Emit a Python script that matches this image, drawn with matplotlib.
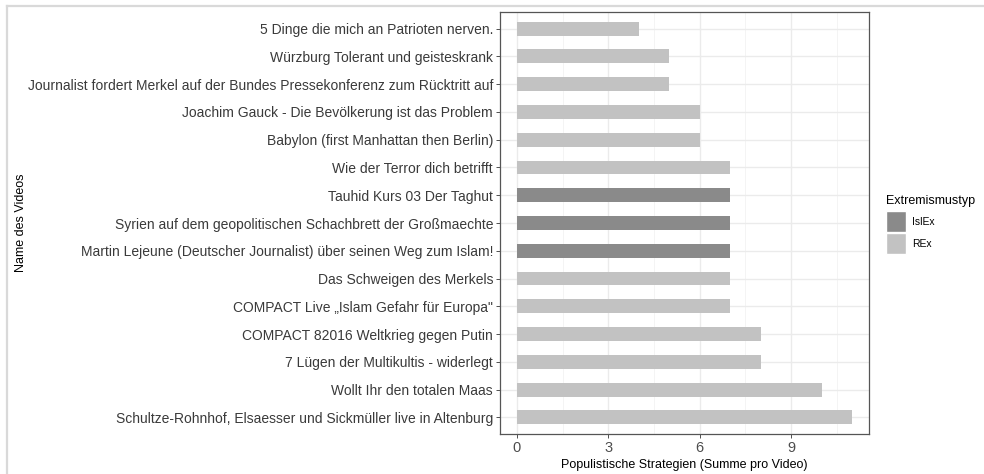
import matplotlib.pyplot as plt
from matplotlib.lines import Line2D
from matplotlib.patches import Patch

plt.rcParams['font.family'] = ['Liberation Sans', 'DejaVu Sans']

# data, top to bottom as shown
videos = [
    "5 Dinge die mich an Patrioten nerven.",
    "Würzburg Tolerant und geisteskrank",
    "Journalist fordert Merkel auf der Bundes Pressekonferenz zum Rücktritt auf",
    "Joachim Gauck - Die Bevölkerung ist das Problem",
    "Babylon (first Manhattan then Berlin)",
    "Wie der Terror dich betrifft",
    "Tauhid Kurs 03 Der Taghut",
    "Syrien auf dem geopolitischen Schachbrett der Großmaechte",
    "Martin Lejeune (Deutscher Journalist) über seinen Weg zum Islam!",
    "Das Schweigen des Merkels",
    "COMPACT Live „Islam Gefahr für Europa\"",
    "COMPACT 82016 Weltkrieg gegen Putin",
    "7 Lügen der Multikultis - widerlegt",
    "Wollt Ihr den totalen Maas",
    "Schultze-Rohnhof, Elsaesser und Sickmüller live in Altenburg",
]
werte = [4, 5, 5, 6, 6, 7, 7, 7, 7, 7, 7, 8, 8, 10, 11]
typ = ["REx", "REx", "REx", "REx", "REx", "REx", "IslEx", "IslEx", "IslEx",
       "REx", "REx", "REx", "REx", "REx", "REx"]
farben = {"IslEx": "#8a8a8a", "REx": "#c2c2c2"}

fig = plt.figure(figsize=(9.84, 4.74), dpi=100)
ax = fig.add_axes([500 / 984, 1 - 434 / 474, 369 / 984, 422 / 474])

n = len(videos)
ypos = [n - i for i in range(n)]
ax.barh(ypos, werte, height=0.5, color=[farben[t] for t in typ], zorder=2)

ax.set_xlim(-0.55, 11.55)
ax.set_ylim(0.4, n + 0.6)
ax.set_xticks([0, 3, 6, 9])
ax.set_xticks([1.5, 4.5, 7.5, 10.5], minor=True)
ax.set_yticks(ypos)
ax.set_yticklabels(videos)
ax.grid(which='major', color='#ebebeb', lw=1.0, zorder=0)
ax.grid(which='minor', axis='x', color='#f2f2f2', lw=0.6, zorder=0)
ax.set_axisbelow(True)
ax.tick_params(axis='y', labelsize=10, colors='#333333', length=3, width=0.6, pad=2,
               labelcolor='#3a3a3a')
ax.tick_params(axis='x', labelsize=10.5, colors='#333333', length=3, width=0.6, pad=2,
               labelcolor='#4d4d4d')
ax.tick_params(which='minor', length=0)
for s in ax.spines.values():
    s.set_color('#555555')
    s.set_linewidth(0.9)

ax.set_xlabel("Populistische Strategien (Summe pro Video)", fontsize=9, labelpad=3)
fig.text(21 / 984, 1 - 223 / 474, "Name des Videos", rotation=90, fontsize=9,
         ha='center', va='center')

handles = [Patch(facecolor=farben[k], edgecolor='white', lw=1) for k in ["IslEx", "REx"]]
leg = fig.legend(handles, ["IslEx", "REx"], title="Extremismustyp",
                 loc='upper left', bbox_to_anchor=(883 / 984, 1 - 192 / 474),
                 frameon=False, fontsize=7.5, title_fontsize=9,
                 handlelength=1.9, handleheight=2.7, handletextpad=0.6,
                 labelspacing=0.1, borderaxespad=0, borderpad=0.3)
leg._legend_box.align = "left"
leg._legend_box.sep = 3

# light frame at top and left of the image
fig.add_artist(Line2D([7 / 984, 7 / 984], [0, 1 - 6 / 474], transform=fig.transFigure,
                      color='#d9d9d9', lw=1.6))
fig.add_artist(Line2D([7 / 984, 1], [1 - 6 / 474, 1 - 6 / 474], transform=fig.transFigure,
                      color='#d9d9d9', lw=1.6))

fig.savefig("out.png", dpi=100)
